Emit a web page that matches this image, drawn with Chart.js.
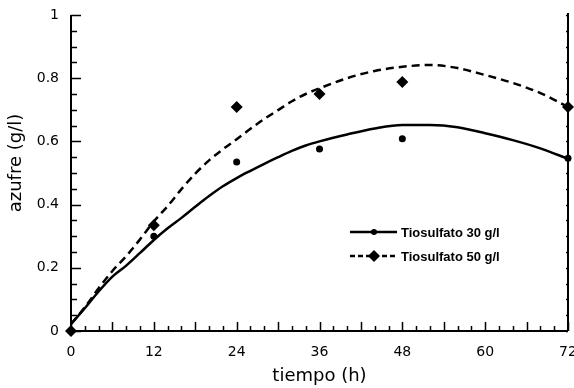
<!DOCTYPE html>
<html>
<head>
<meta charset="utf-8">
<script src="https://cdn.jsdelivr.net/npm/chart.js@4"></script>
<style>
  html, body { margin: 0; padding: 0; background: #fff; }
  canvas { display: block; }
</style>
</head>
<body>
<canvas id="chart" width="574" height="388"></canvas>
<script>
// --- DATA ---
const sampleTimes = [0, 12, 24, 36, 48, 72];
const tio30Points = [0, 0.30, 0.535, 0.576, 0.608, 0.547];
const tio50Points = [0, 0.335, 0.709, 0.75, 0.788, 0.709];

// fitted curves
const curveTimes = [0, 2, 4, 6, 8, 10, 12, 14, 16, 18, 20, 22, 24, 26, 28, 30, 32, 34, 36, 40, 44, 48, 52, 56, 60, 64, 68, 72];
const tio30Curve = [0.022, 0.072, 0.125, 0.172, 0.207, 0.247, 0.288, 0.325, 0.358, 0.393, 0.427, 0.458, 0.484, 0.507, 0.529, 0.55, 0.57, 0.587, 0.6, 0.622, 0.641, 0.652, 0.652, 0.645, 0.626, 0.604, 0.578, 0.545];
const tio50Curve = [0.022, 0.075, 0.135, 0.19, 0.237, 0.29, 0.347, 0.395, 0.449, 0.498, 0.54, 0.575, 0.607, 0.64, 0.671, 0.699, 0.727, 0.75, 0.768, 0.8, 0.823, 0.836, 0.842, 0.832, 0.81, 0.785, 0.753, 0.709];

const xTickLabels = ['0', '12', '24', '36', '48', '60', '72'];
const yTickLabels = ['0', '0.2', '0.4', '0.6', '0.8', '1'];
const legendLabels = ['Tiosulfato 30 g/l', 'Tiosulfato 50 g/l'];

const pts = (xs, ys) => xs.map((x, i) => ({x: x, y: ys[i]}));
const INK = '#000';

// --- AXES, TITLES, LEGEND ---
const frame = {
    id: 'frame',
    afterDatasetsDraw(chart) {
        const ctx = chart.ctx;
        const xs = chart.scales.x, ys = chart.scales.y;
        const x0 = xs.getPixelForValue(0), x1 = xs.getPixelForValue(72);
        const y0 = ys.getPixelForValue(0), y1 = ys.getPixelForValue(1);
        ctx.save();
        ctx.strokeStyle = INK; ctx.fillStyle = INK;

        // axis lines
        ctx.lineWidth = 2;
        ctx.beginPath();
        ctx.moveTo(x0, y1); ctx.lineTo(x0, y0); ctx.lineTo(x1, y0);
        ctx.moveTo(x1, y1 - 2); ctx.lineTo(x1, y0);
        ctx.stroke();

        // y ticks (inside)
        ctx.lineWidth = 1.5;
        ctx.beginPath();
        for (let v = 0; v <= 20; v++) {
            const y = Math.round(ys.getPixelForValue(v * 0.05)) + 0.5;
            const len = v % 4 === 0 ? 10 : 6;
            ctx.moveTo(x0, y); ctx.lineTo(x0 + len, y);
            ctx.moveTo(x1, y); ctx.lineTo(x1 - 2, y);
        }
        // x ticks (inside)
        for (let t = 0; t <= 72; t += 2) {
            const x = Math.round(xs.getPixelForValue(t)) + 0.5;
            const len = t % 6 === 0 ? 9 : 5;
            ctx.moveTo(x, y0); ctx.lineTo(x, y0 - len);
        }
        ctx.stroke();

        // tick labels
        ctx.font = '14px "DejaVu Sans"';
        ctx.textAlign = 'right'; ctx.textBaseline = 'middle';
        yTickLabels.forEach(l => ctx.fillText(l, x0 - 12, ys.getPixelForValue(parseFloat(l))));
        ctx.textAlign = 'center';
        xTickLabels.forEach(l => ctx.fillText(l, xs.getPixelForValue(parseFloat(l)), y0 + 21));

        // axis titles
        ctx.font = '18px "DejaVu Sans"';
        ctx.fillText('tiempo (h)', (x0 + x1) / 2, 376);
        ctx.save();
        ctx.translate(16, 163);
        ctx.rotate(-Math.PI / 2);
        ctx.fillText('azufre (g/l)', 0, 0);
        ctx.restore();

        // legend
        const lx0 = 350, lx1 = 397, mx = 374;
        const rows = [232, 256];
        ctx.lineWidth = 2.5;
        ctx.beginPath(); ctx.moveTo(lx0, rows[0]); ctx.lineTo(lx1, rows[0]); ctx.stroke();
        ctx.beginPath(); ctx.arc(mx, rows[0], 3, 0, Math.PI * 2); ctx.fill();
        ctx.setLineDash([5, 3]);
        ctx.beginPath(); ctx.moveTo(lx0, rows[1]); ctx.lineTo(lx1, rows[1]); ctx.stroke();
        ctx.setLineDash([]);
        ctx.beginPath();
        ctx.moveTo(mx, rows[1] - 6); ctx.lineTo(mx + 6, rows[1]);
        ctx.lineTo(mx, rows[1] + 6); ctx.lineTo(mx - 6, rows[1]);
        ctx.closePath(); ctx.fill();

        ctx.font = 'bold 13px "Liberation Sans"';
        ctx.textAlign = 'left';
        legendLabels.forEach((l, i) => ctx.fillText(l, 401, rows[i] + 1));
        ctx.restore();
    }
};

new Chart(document.getElementById('chart'), {
    type: 'scatter',
    data: {
        datasets: [
            {
                label: legendLabels[0] + ' (ajuste)',
                data: pts(curveTimes, tio30Curve),
                showLine: true, cubicInterpolationMode: 'monotone', pointRadius: 0,
                borderColor: INK, borderWidth: 2.5
            },
            {
                label: legendLabels[1] + ' (ajuste)',
                data: pts(curveTimes, tio50Curve),
                showLine: true, cubicInterpolationMode: 'monotone', pointRadius: 0,
                borderColor: INK, borderWidth: 2.5, borderDash: [8, 5]
            },
            {
                label: legendLabels[0],
                data: pts(sampleTimes, tio30Points),
                pointStyle: 'circle', pointRadius: 3.5,
                backgroundColor: INK, borderColor: INK, borderWidth: 0
            },
            {
                label: legendLabels[1],
                data: pts(sampleTimes, tio50Points),
                pointStyle: 'rectRot', pointRadius: 6,
                backgroundColor: INK, borderColor: INK, borderWidth: 0
            }
        ]
    },
    options: {
        responsive: false,
        animation: false,
        devicePixelRatio: 1,
        clip: false,
        layout: { padding: { left: 71, right: 4, top: 15, bottom: 57 } },
        plugins: { legend: { display: false }, tooltip: { enabled: false } },
        scales: {
            x: { type: 'linear', min: 0, max: 72, display: false },
            y: { type: 'linear', min: 0, max: 1, display: false }
        }
    },
    plugins: [frame]
});
</script>
</body>
</html>
